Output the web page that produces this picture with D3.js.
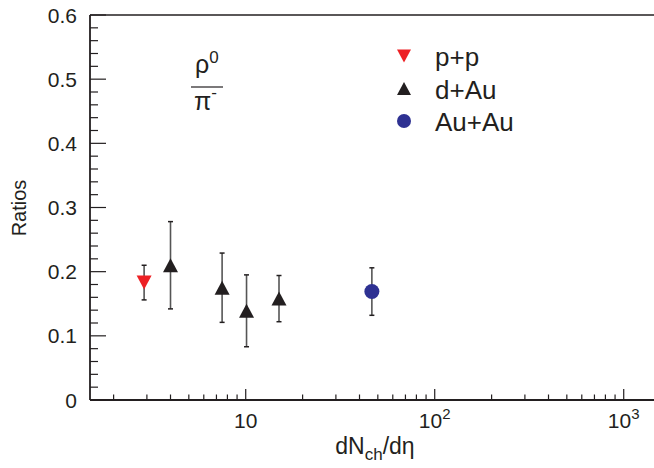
<!DOCTYPE html>
<html><head><meta charset="utf-8">
<script src="https://cdn.jsdelivr.net/npm/d3@7"></script>
<style>
html,body{margin:0;padding:0;background:#fff;}
svg{display:block;font-family:"Liberation Sans",Arial,Helvetica,sans-serif;}
</style></head>
<body>
<svg id="c" width="654" height="468"></svg>
<script>
// ---- data ----
const ppX = [2.9];
const ppY = [0.183];
const ppErr = [0.027];
const dAuX = [4.0, 7.5, 10.1, 15.0];
const dAuY = [0.210, 0.175, 0.139, 0.158];
const dAuErr = [0.068, 0.054, 0.056, 0.036];
const auAuX = [46.5];
const auAuY = [0.169];
const auAuErr = [0.037];
const yTicks = [0, 0.1, 0.2, 0.3, 0.4, 0.5, 0.6];
const yTickLabels = ["0", "0.1", "0.2", "0.3", "0.4", "0.5", "0.6"];
const xTicks = [10, 100, 1000];
const xTickBase = ["10", "10", "10"];
const xTickExp = ["", "2", "3"];
const legendLabels = ["p+p", "d+Au", "Au+Au"];

const svg = d3.select("#c");
const L = 90, R = 657, T = 15, B = 400;
const x = d3.scaleLog().domain([1.5, 1500]).range([L, R]);
const y = d3.scaleLinear().domain([0, 0.6]).range([B, T]);

const axisCol = "#231f20";
// frame lines
svg.append("line").attr("x1", L).attr("x2", 654).attr("y1", T).attr("y2", T)
  .attr("stroke", axisCol).attr("stroke-width", 1.5);
svg.append("line").attr("x1", L).attr("x2", L).attr("y1", T).attr("y2", B)
  .attr("stroke", axisCol).attr("stroke-width", 1.8);
svg.append("line").attr("x1", L).attr("x2", 654).attr("y1", B).attr("y2", B)
  .attr("stroke", axisCol).attr("stroke-width", 1.8);

// y axis ticks
const yMinor = d3.range(0, 0.6001, 0.02).filter(v => Math.abs(Math.round(v * 10) - v * 10) > 1e-6);
svg.append("g").selectAll("line").data(yMinor).join("line")
  .attr("x1", L).attr("x2", L + 8).attr("y1", d => y(d)).attr("y2", d => y(d))
  .attr("stroke", axisCol).attr("stroke-width", 1.2);
svg.append("g").selectAll("line").data(yTicks).join("line")
  .attr("x1", L).attr("x2", L + 16).attr("y1", d => y(d)).attr("y2", d => y(d))
  .attr("stroke", axisCol).attr("stroke-width", 1.2);
svg.append("g").selectAll("text").data(yTicks).join("text")
  .attr("x", 77).attr("y", d => y(d) + 7.5).attr("text-anchor", "end")
  .attr("font-size", 21).attr("fill", axisCol).text((d, i) => yTickLabels[i]);

// x axis ticks
const xMinor = [];
[1, 10, 100].forEach(dec => { for (let k = 2; k <= 9; k++) { const v = dec * k; if (v >= 1.5 && v <= 1500) xMinor.push(v); } });
svg.append("g").selectAll("line").data(xMinor).join("line")
  .attr("x1", d => x(d)).attr("x2", d => x(d)).attr("y1", B).attr("y2", B - 5.5)
  .attr("stroke", axisCol).attr("stroke-width", 1.2);
svg.append("g").selectAll("line").data(xTicks).join("line")
  .attr("x1", d => x(d)).attr("x2", d => x(d)).attr("y1", B).attr("y2", B - 11)
  .attr("stroke", axisCol).attr("stroke-width", 1.2);
const xl = svg.append("g").selectAll("text").data(xTicks).join("text")
  .attr("x", d => x(d)).attr("y", 428).attr("text-anchor", "middle")
  .attr("font-size", 21).attr("fill", axisCol);
xl.append("tspan").text((d, i) => xTickBase[i]);
xl.append("tspan").attr("dy", -9).attr("font-size", 15).text((d, i) => xTickExp[i]);

// axis titles
svg.append("text").attr("transform", "translate(26,208) rotate(-90)")
  .attr("text-anchor", "middle").attr("font-size", 20).attr("fill", axisCol).text("Ratios");
const xt = svg.append("text").attr("x", 375).attr("y", 454).attr("text-anchor", "middle")
  .attr("font-size", 23).attr("fill", axisCol);
xt.append("tspan").text("dN");
xt.append("tspan").attr("dy", 6).attr("font-size", 17).text("ch");
xt.append("tspan").attr("dy", -6).text("/d\u03b7");

// markers
function triUp(cx, cy, w, h) { return `M${cx - w / 2},${cy + h / 2}L${cx + w / 2},${cy + h / 2}L${cx},${cy - h / 2}Z`; }
function triDown(cx, cy, w, h) { return `M${cx - w / 2},${cy - h / 2}L${cx + w / 2},${cy - h / 2}L${cx},${cy + h / 2}Z`; }

const series = [
  { xs: ppX, ys: ppY, es: ppErr, color: "#ed2024", shape: "down" },
  { xs: dAuX, ys: dAuY, es: dAuErr, color: "#231f20", shape: "up" },
  { xs: auAuX, ys: auAuY, es: auAuErr, color: "#2e3192", shape: "circle" }
];
series.forEach(s => {
  const pts = s.xs.map((v, i) => ({ x: v, y: s.ys[i], e: s.es[i] }));
  const g = svg.append("g");
  g.selectAll("line.eb").data(pts).join("line")
    .attr("x1", d => x(d.x)).attr("x2", d => x(d.x))
    .attr("y1", d => y(d.y + d.e)).attr("y2", d => y(d.y - d.e))
    .attr("stroke", "#555").attr("stroke-width", 1.6);
  g.selectAll("line.ct").data(pts).join("line")
    .attr("x1", d => x(d.x) - 2.5).attr("x2", d => x(d.x) + 2.5)
    .attr("y1", d => y(d.y + d.e)).attr("y2", d => y(d.y + d.e))
    .attr("stroke", "#231f20").attr("stroke-width", 1.5);
  g.selectAll("line.cb").data(pts).join("line")
    .attr("x1", d => x(d.x) - 2.5).attr("x2", d => x(d.x) + 2.5)
    .attr("y1", d => y(d.y - d.e)).attr("y2", d => y(d.y - d.e))
    .attr("stroke", "#231f20").attr("stroke-width", 1.5);
  if (s.shape === "circle") {
    g.selectAll("circle").data(pts).join("circle")
      .attr("cx", d => x(d.x)).attr("cy", d => y(d.y)).attr("r", 7.5).attr("fill", s.color);
  } else {
    g.selectAll("path").data(pts).join("path")
      .attr("d", d => s.shape === "up" ? triUp(x(d.x), y(d.y), 15, 14) : triDown(x(d.x), y(d.y), 15, 14))
      .attr("fill", s.color);
  }
});

// legend
const legY = [56, 88.5, 121];
const lg = svg.append("g");
series.forEach((s, i) => {
  const cx = 404, cy = legY[i];
  if (s.shape === "circle") lg.append("circle").attr("cx", cx).attr("cy", cy).attr("r", 7).attr("fill", s.color);
  else lg.append("path").attr("d", s.shape === "up" ? triUp(cx, cy, 14, 13) : triDown(cx, cy, 14, 13)).attr("fill", s.color);
  lg.append("text").attr("x", 435).attr("y", cy + 10).attr("font-size", 26).attr("fill", axisCol).text(legendLabels[i]);
});

// ratio label rho0 / pi-
const rl = svg.append("g").attr("fill", axisCol);
const t1 = rl.append("text").attr("x", 195).attr("y", 73).attr("font-size", 25);
t1.append("tspan").text("\u03c1");
t1.append("tspan").attr("dy", -10).attr("font-size", 17).text("0");
rl.append("line").attr("x1", 191).attr("x2", 223).attr("y1", 87).attr("y2", 87)
  .attr("stroke", axisCol).attr("stroke-width", 1.2);
const t2 = rl.append("text").attr("x", 194).attr("y", 110).attr("font-size", 25);
t2.append("tspan").text("\u03c0");
t2.append("tspan").attr("dy", -12).attr("font-size", 17).text("-");
</script>
</body></html>
